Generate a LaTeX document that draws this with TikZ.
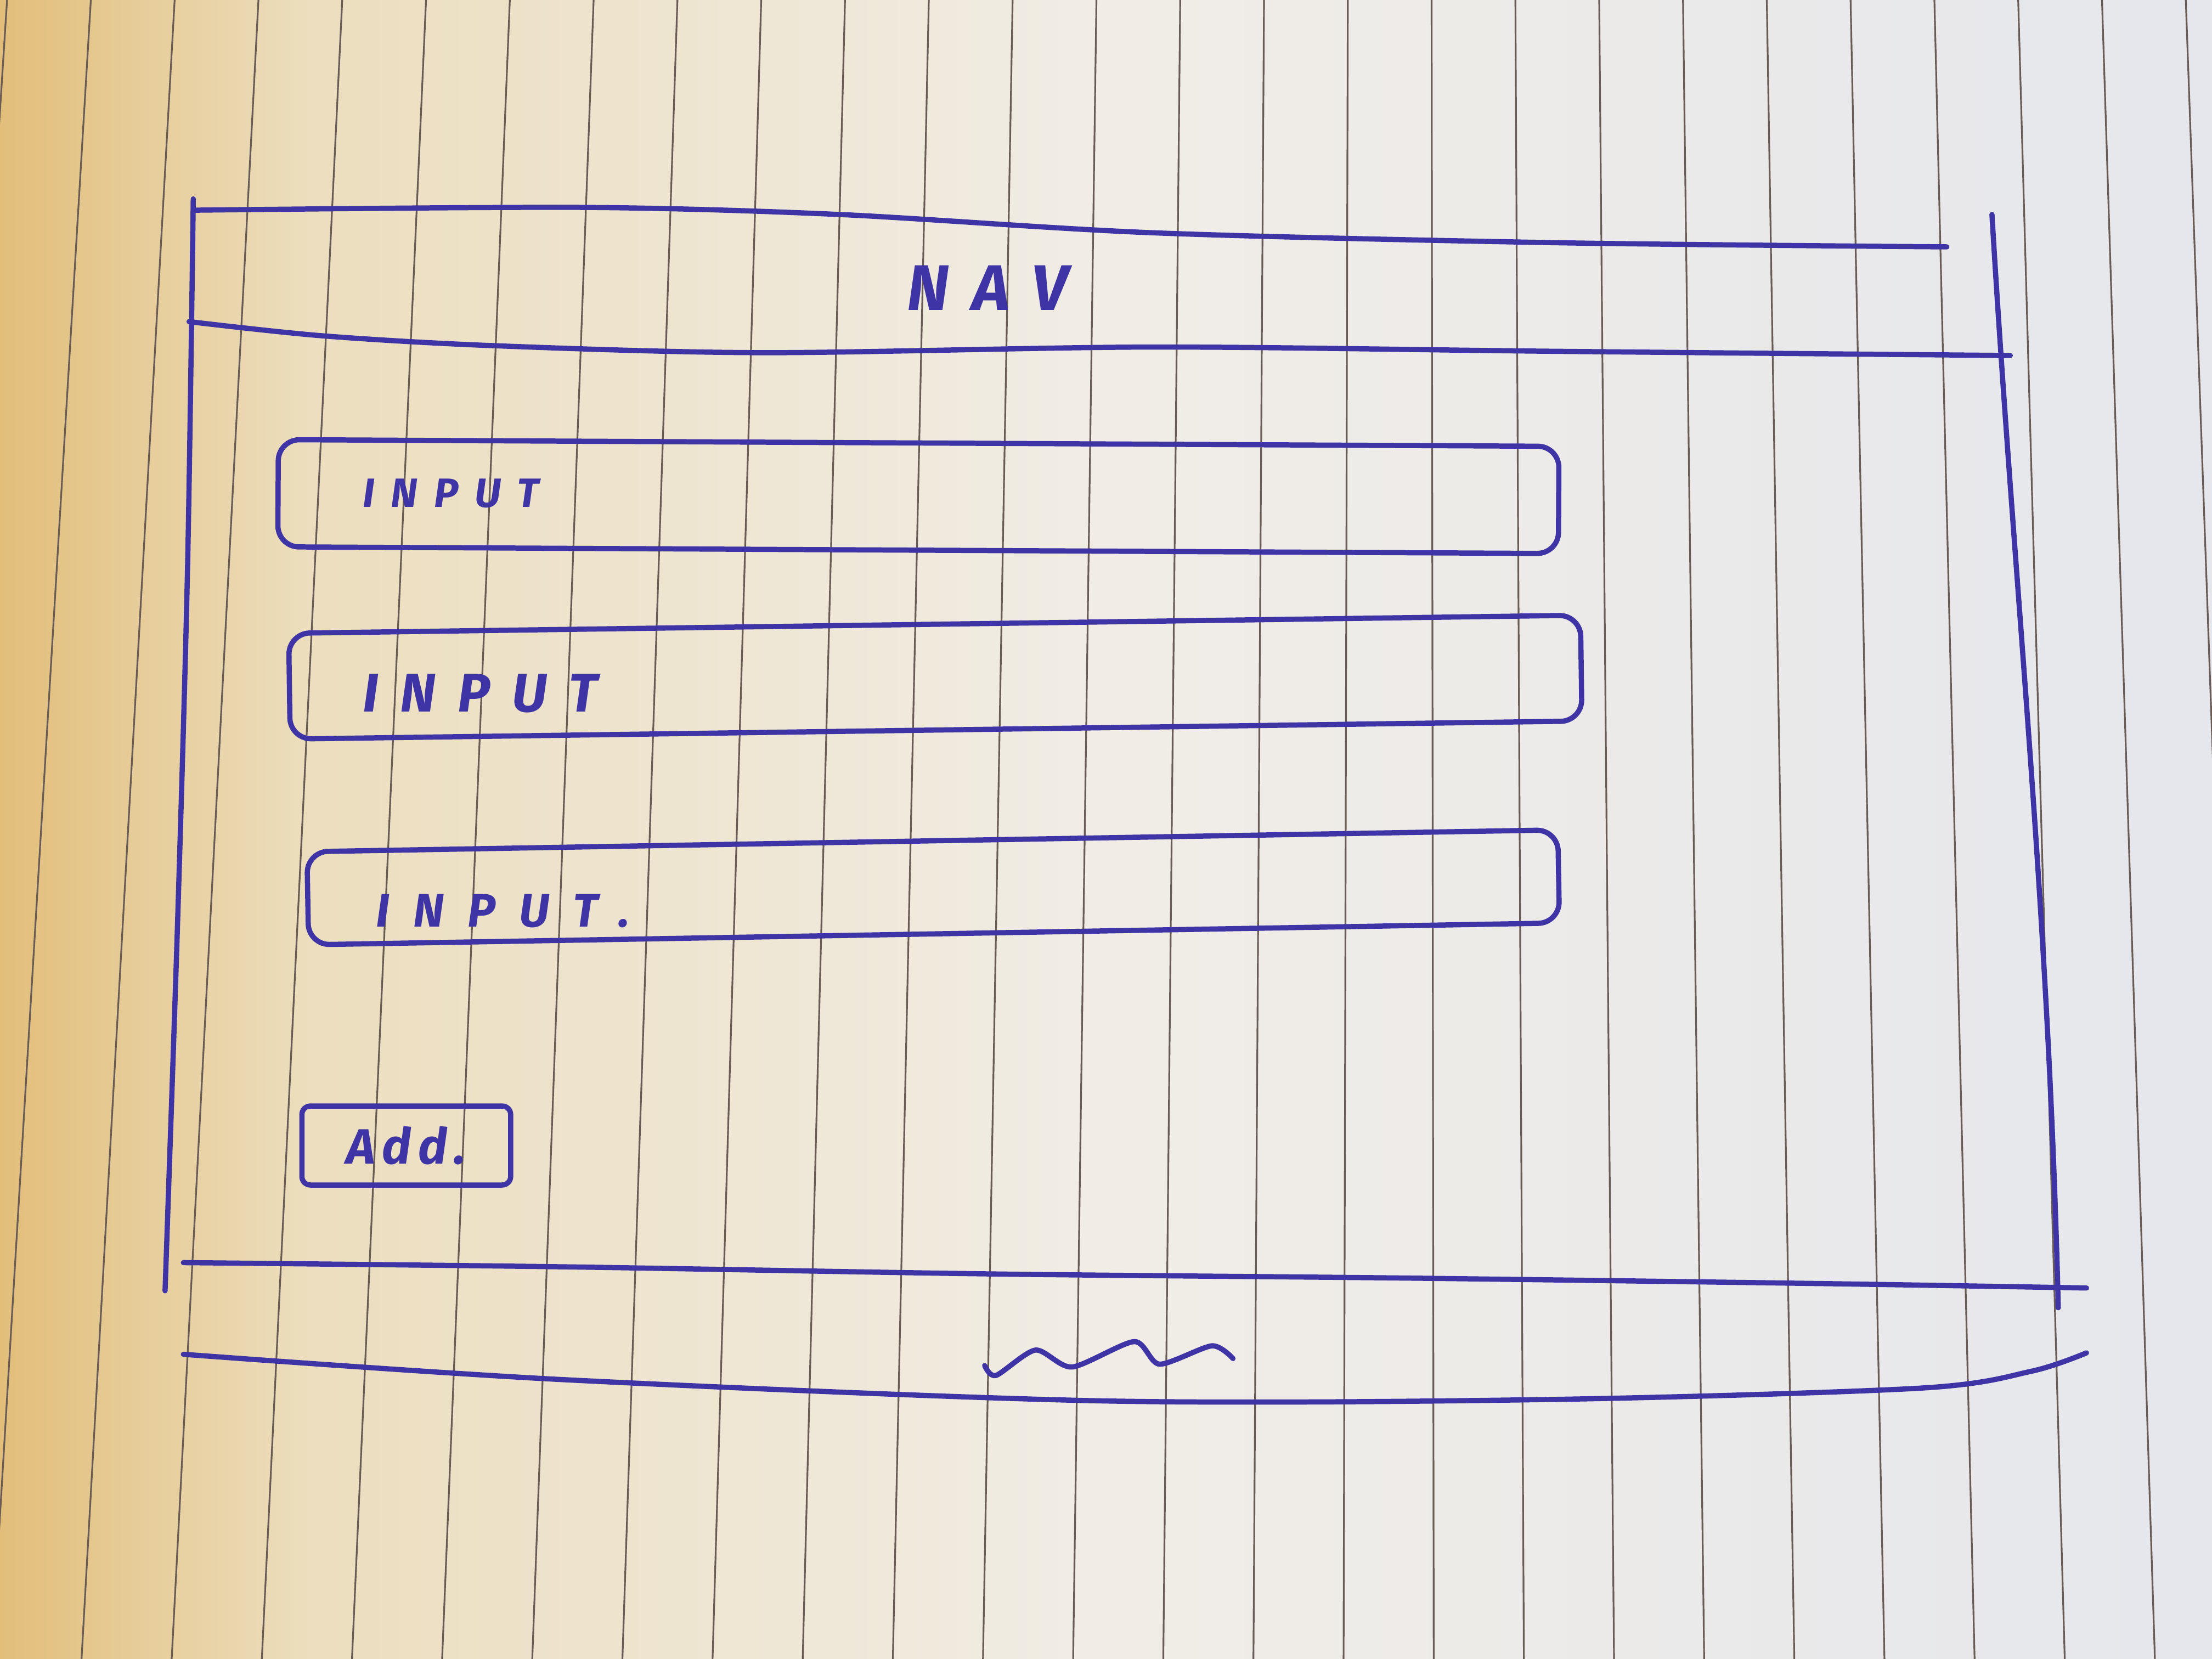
\documentclass[tikz,border=0pt]{standalone}
\usepackage{fontspec}
\setmainfont{Fira Sans}
\usetikzlibrary{positioning}

\definecolor{ink}{RGB}{62,52,165}
\definecolor{paperL}{RGB}{226,190,122}
\definecolor{paperA}{RGB}{236,222,190}
\definecolor{paperM}{RGB}{241,237,230}
\definecolor{paperR}{RGB}{229,231,237}
\definecolor{ruleline}{RGB}{105,92,86}
\pgfdeclarehorizontalshading{paper}{100bp}{color(0bp)=(paperL); color(25bp)=(paperL); color(32bp)=(paperA); color(50bp)=(paperM); color(75bp)=(paperR); color(100bp)=(paperR)}

\begin{document}
\begin{tikzpicture}[x=0.02cm, y=-0.02cm,
  pen/.style = {draw=ink, line width=2.1pt, line cap=round, line join=round},
  inputbox/.style = {pen, rounded corners=0.3cm, inner sep=0pt},
  button/.style = {pen, rounded corners=0.12cm, minimum width=2.96cm, minimum height=1.12cm, inner sep=0pt},
  handtext/.style = {text=ink, inner sep=0pt},
  ruling/.style = {draw=ruleline, line width=0.7pt}]

  \useasboundingbox (0,0) rectangle (1568,1176);

  % paper
  \begin{scope}
    \clip (0,0) rectangle (1568,1176);
    \shade[shading=paper] (0,0) rectangle (1568,1176);
    \foreach \i in {0, ..., 26}
      \draw[ruling] ({5+59.4*\i},0) -- ({5+59.4*\i-75+4.5*\i},1176);
  \end{scope}

  % page frame
  \draw[pen] plot[smooth] coordinates {(137,149) (411,147) (594,152) (817,165) (1100,172) (1380,175)};
  \draw[pen] plot[smooth] coordinates {(137,141) (133,400) (126,650) (117,915)};
  \draw[pen] (1412,152) .. controls (1428,420) and (1452,640) .. (1459,927);

  % nav
  \draw[pen] plot[smooth] coordinates {(134,228) (228,238) (349,245) (541,250) (817,246) (1100,249) (1425,252)};
  \node[handtext, font={\fontsize{26}{28}\selectfont\bfseries\itshape\addfontfeature{LetterSpace=36}}] (NAV) at (700,204) {NAV};

  % inputs
  \foreach \i/\x/\y/\w/\h/\r in {1/651/352/18.16/1.52/-0.3, 2/663/480/18.32/1.5/0.8, 3/661.5/629/17.74/1.32/1}
    \node[inputbox, minimum width=\w cm, minimum height=\h cm, rotate=\r] (IN_\i) at (\x,\y) {};

  \node[handtext, font={\fontsize{16.5}{18}\selectfont\bfseries\itshape\addfontfeature{LetterSpace=40}}, right=1.23cm of IN_1.west] (LBL_1) {INPUT};
  \node[handtext, font={\fontsize{22}{24}\selectfont\bfseries\itshape\addfontfeature{LetterSpace=40}}, right=1.07cm of IN_2.west, yshift=-0.1cm] (LBL_2) {INPUT};
  \node[handtext, font={\fontsize{19}{21}\selectfont\bfseries\itshape\addfontfeature{LetterSpace=50}}, right=1cm of IN_3.west, yshift=-0.18cm] (LBL_3) {INPUT.};

  % button
  \node[button, handtext, draw=ink, font={\fontsize{20}{22}\selectfont\bfseries\itshape\addfontfeature{LetterSpace=14}}] (ADD) at (288,812) {Add.};

  % footer
  \draw[pen] plot[smooth] coordinates {(130,895) (400,898) (700,903) (1000,906) (1300,910) (1479,913)};
  \draw[pen] plot[smooth] coordinates {(130,960) (400,978) (780,993) (1100,992) (1361,984) (1440,972) (1479,959)};
  \draw[pen] plot[smooth, tension=0.45] coordinates {(698,968) (706,975) (734,957) (760,969) (804,951) (822,967) (859,954) (874,963)};

\end{tikzpicture}
\end{document}
